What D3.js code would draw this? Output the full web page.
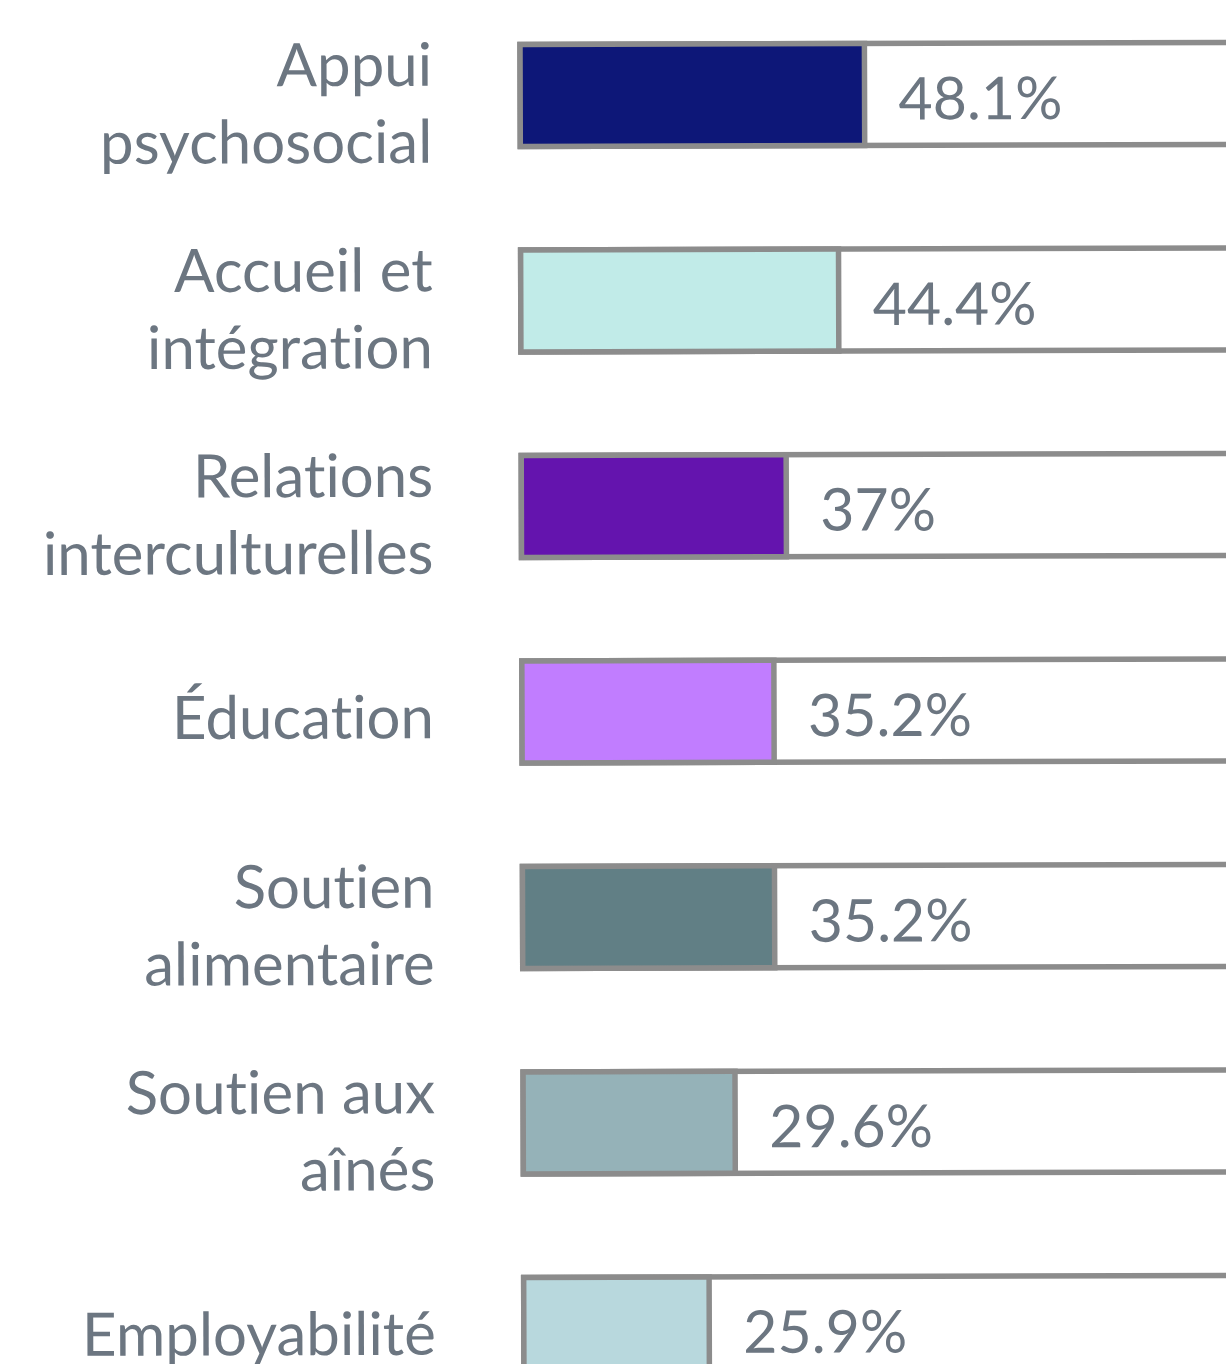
<!DOCTYPE html>
<html>
<head>
<meta charset="utf-8">
<script src="https://cdn.jsdelivr.net/npm/d3@7"></script>
<style>
  html, body { margin:0; padding:0; background:#ffffff; overflow:hidden; }
  text { font-family: Lato, "Open Sans", sans-serif; fill:#6c7681;
         font-variant-ligatures: none; font-feature-settings: "liga" 0, "clig" 0; }
</style>
</head>
<body>
<div id="chart"></div>
<script>
// categories (each label broken in lines as in the picture)
var categories = [
  ["Appui", "psychosocial"],
  ["Accueil et", "intégration"],
  ["Relations", "interculturelles"],
  ["Éducation"],
  ["Soutien", "alimentaire"],
  ["Soutien aux", "aînés"],
  ["Employabilité"]
];
var values = [48.1, 44.4, 37, 35.2, 35.2, 29.6, 25.9];
var valueLabels = ["48.1%", "44.4%", "37%", "35.2%", "35.2%", "29.6%", "25.9%"];
var barColors = ["#0d1778", "#c1ebe8", "#6414ae", "#c17dff", "#617f85", "#95b2b8", "#b8d8dd"];

var width = 1226, height = 1364;

// layout
var x0 = 520, y0 = 44.5;
var step = 205.5, barH = 102;
var fullW = 716;
var strokeCol = "#8c8c8c", strokeW = 5.5;

var x = d3.scaleLinear().domain([0, 100]).range([x0, x0 + fullW]);
var y = d3.scaleBand()
    .domain(d3.range(values.length))
    .range([y0, y0 + step * values.length])
    .padding(0);

var svg = d3.select('#chart')
    .append('svg')
      .attr('width', width)
      .attr('height', height);

// the original is very slightly tilted
var g = svg.append('g')
    .attr('transform', 'rotate(-0.17,' + x0 + ',' + y0 + ')');

var rows = g.selectAll('g.row')
    .data(values)
    .enter()
  .append('g')
    .attr('class', 'row');

// grey outlined track up to 100%
rows.append('rect')
    .attr('x', x(0))
    .attr('y', function(d, i) { return y(i); })
    .attr('width', x(100) - x(0))
    .attr('height', barH)
    .attr('fill', '#ffffff')
    .attr('stroke', strokeCol)
    .attr('stroke-width', strokeW);

// coloured value bar
rows.append('rect')
    .attr('x', x(0))
    .attr('y', function(d, i) { return y(i); })
    .attr('width', function(d) { return x(d) - x(0); })
    .attr('height', barH)
    .attr('fill', function(d, i) { return barColors[i]; })
    .attr('stroke', strokeCol)
    .attr('stroke-width', strokeW);

// value labels
rows.append('text')
    .attr('x', function(d) { return x(d) + 34; })
    .attr('y', function(d, i) { return y(i) + barH / 2 + 25; })
    .attr('font-size', 59)
    .text(function(d, i) { return valueLabels[i]; });

// category labels, right aligned
var lineH = 77;
rows.append('text')
    .attr('text-anchor', 'end')
    .attr('font-size', 60)
    .each(function(d, i) {
      var lines = categories[i];
      var c = y(i) + barH / 2;
      var first = lines.length == 1 ? c + 26 : c - 10;
      var t = d3.select(this);
      lines.forEach(function(l, k) {
        t.append('tspan')
          .attr('x', 432)
          .attr('y', first + k * lineH)
          .text(l);
      });
    });
</script>
</body>
</html>
